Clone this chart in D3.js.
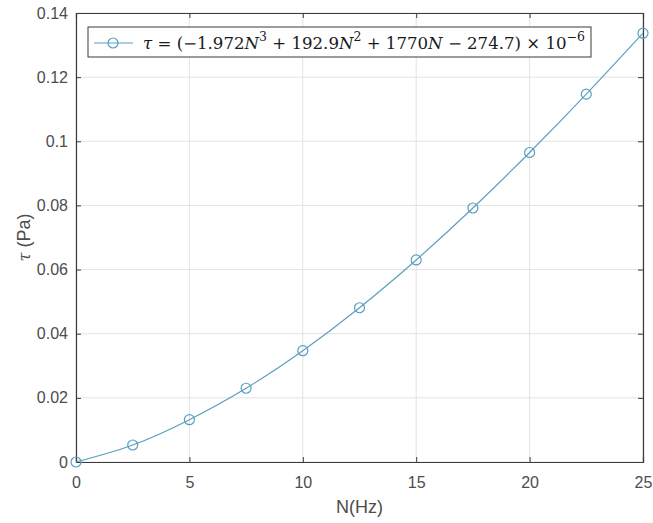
<!DOCTYPE html>
<html>
<head>
<meta charset="utf-8">
<script src="https://cdn.jsdelivr.net/npm/d3@7"></script>
<style>
  body { margin: 0; background: #fff; }
  svg { display: block; }
</style>
</head>
<body>
<div id="chart"></div>
<script>
// constants
const width = 653,
  height = 523;
const margin = { top: 13, right: 10, bottom: 61, left: 76 };

// data
const freq = [0, 2.5, 5, 7.5, 10, 12.5, 15, 17.5, 20, 22.5, 25];
const stress = [0.0, 0.0053, 0.0132, 0.023, 0.0347, 0.0481, 0.063, 0.0792, 0.0965, 0.1147, 0.1337];
const xTicks = [0, 5, 10, 15, 20, 25];
const yTicks = [0, 0.02, 0.04, 0.06, 0.08, 0.1, 0.12, 0.14];

const lineColor = "#5b9fc0";
const axisColor = "#3a3a3a";
const tickColor = "#4d4d4d";

const svg = d3
  .select("#chart")
  .append("svg")
  .attr("width", width)
  .attr("height", height);

const x = d3
  .scaleLinear()
  .domain([0, 25])
  .range([margin.left, width - margin.right]);

const y = d3
  .scaleLinear()
  .domain([0, 0.14])
  .range([height - margin.bottom, margin.top]);

// grid
svg
  .append("g")
  .selectAll("line")
  .data(xTicks)
  .join("line")
  .attr("x1", (d) => x(d))
  .attr("x2", (d) => x(d))
  .attr("y1", y(0))
  .attr("y2", y(0.14))
  .attr("stroke", "#e3e3e3");

svg
  .append("g")
  .selectAll("line")
  .data(yTicks)
  .join("line")
  .attr("x1", x(0))
  .attr("x2", x(25))
  .attr("y1", (d) => y(d))
  .attr("y2", (d) => y(d))
  .attr("stroke", "#e3e3e3");

// axes (ticks inside, box on)
const xAxis = d3.axisBottom(x).tickValues(xTicks).tickSize(-5).tickPadding(15).tickFormat(d3.format("d"));
const yAxis = d3.axisLeft(y).tickValues(yTicks).tickSize(-5).tickPadding(8).tickFormat((d) => (d === 0 ? "0" : d3.format(".2~f")(d)));

svg
  .append("g")
  .attr("transform", `translate(0,${y(0)})`)
  .call(xAxis);

svg
  .append("g")
  .attr("transform", `translate(${x(0)},0)`)
  .call(yAxis);

svg
  .append("g")
  .attr("transform", `translate(0,${y(0.14)})`)
  .call(d3.axisTop(x).tickValues(xTicks).tickSize(-5).tickFormat(""));

svg
  .append("g")
  .attr("transform", `translate(${x(25)},0)`)
  .call(d3.axisRight(y).tickValues(yTicks).tickSize(-5).tickFormat(""));

svg.selectAll(".domain").attr("stroke", axisColor).attr("stroke-width", 1.2);
svg.selectAll(".tick line").attr("stroke", axisColor);
svg
  .selectAll(".tick text")
  .attr("fill", tickColor)
  .attr("font-family", "Liberation Sans, Arial, sans-serif")
  .attr("font-size", 16);

// curve + markers
const line = d3
  .line()
  .x((d, i) => x(freq[i]))
  .y((d) => y(d))
  .curve(d3.curveNatural);

svg
  .append("path")
  .datum(stress)
  .attr("d", line)
  .attr("fill", "none")
  .attr("stroke", lineColor)
  .attr("stroke-width", 1.2);

svg
  .append("g")
  .selectAll("circle")
  .data(stress)
  .join("circle")
  .attr("cx", (d, i) => x(freq[i]))
  .attr("cy", (d) => y(d))
  .attr("r", 5)
  .attr("fill", "none")
  .attr("stroke", lineColor)
  .attr("stroke-width", 1.2);

// axis labels
svg
  .append("text")
  .attr("x", (x(0) + x(25)) / 2)
  .attr("y", 513)
  .attr("text-anchor", "middle")
  .attr("font-family", "Liberation Sans, Arial, sans-serif")
  .attr("font-size", 18)
  .attr("fill", tickColor)
  .text("N(Hz)");

const ylab = svg
  .append("text")
  .attr("transform", `translate(30,${(y(0) + y(0.14)) / 2}) rotate(-90)`)
  .attr("text-anchor", "middle")
  .attr("font-family", "Liberation Sans, Arial, sans-serif")
  .attr("font-size", 18)
  .attr("fill", tickColor);
ylab.append("tspan").attr("font-family", "DejaVu Serif, serif").attr("font-style", "italic").attr("font-size", 16).text("τ");
ylab.append("tspan").text(" (Pa)");

// legend
const legend = svg.append("g");
legend
  .append("rect")
  .attr("x", 88)
  .attr("y", 27)
  .attr("width", 503)
  .attr("height", 30)
  .attr("fill", "#fff")
  .attr("stroke", axisColor)
  .attr("stroke-width", 1);

legend
  .append("line")
  .attr("x1", 94)
  .attr("x2", 133)
  .attr("y1", 43)
  .attr("y2", 43)
  .attr("stroke", lineColor)
  .attr("stroke-width", 1.2);

legend
  .append("circle")
  .attr("cx", 113)
  .attr("cy", 43)
  .attr("r", 5)
  .attr("fill", "none")
  .attr("stroke", lineColor)
  .attr("stroke-width", 1.2);

const legendParts = [
  { t: "τ", i: true }, { t: " = (−1.972" }, { t: "N", i: true }, { t: "3", s: true },
  { t: " + 192.9" }, { t: "N", i: true }, { t: "2", s: true },
  { t: " + 1770" }, { t: "N", i: true }, { t: " − 274.7) × 10" }, { t: "−6", s: true },
];

const lt = legend
  .append("text")
  .attr("x", 143)
  .attr("y", 49)
  .attr("font-family", "DejaVu Serif, Liberation Serif, serif")
  .attr("font-size", 16)
  .attr("fill", "#1a1a1a");

legendParts.forEach((p) => {
  const ts = lt.append("tspan").text(p.t);
  if (p.i) ts.attr("font-style", "italic");
  if (p.s) ts.attr("font-size", 12).attr("dy", -8);
});
// put baseline back after superscripts
lt.selectAll("tspan").each(function (d, i) {
  const prev = legendParts[i - 1];
  if (prev && prev.s && !legendParts[i].s) d3.select(this).attr("dy", 8);
});
lt.attr("textLength", 442).attr("lengthAdjust", "spacingAndGlyphs");
</script>
</body>
</html>
